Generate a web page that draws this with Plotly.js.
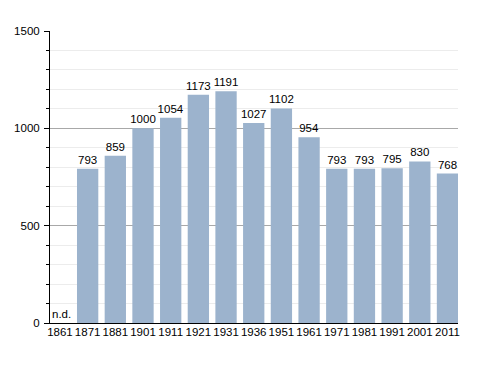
<!DOCTYPE html>
<html>
<head>
<meta charset="utf-8">
<script src="https://cdn.plot.ly/plotly-3.0.1.min.js"></script>
<style>html,body{margin:0;padding:0;background:#fff;}#chart{width:488px;height:373px;}</style>
</head>
<body>
<div id="chart"></div>
<script>
var years = ['1861','1871','1881','1901','1911','1921','1931','1936','1951','1961','1971','1981','1991','2001','2011'];
var population = [null,793,859,1000,1054,1173,1191,1027,1102,954,793,793,795,830,768];
var barLabels = population.map(function(v){ return v === null ? '' : String(v); });
var missingLabel = 'n.d.';

var trace = {
  type: 'bar',
  x: years,
  y: population,
  text: barLabels,
  textposition: 'outside',
  constraintext: 'none',
  cliponaxis: false,
  textfont: {family: 'Liberation Sans, Arial, sans-serif', size: 11.5, color: '#000'},
  marker: {color: '#9cb3cd', line: {width: 0}},
  width: 0.77,
  hoverinfo: 'none'
};

var layout = {
  width: 488, height: 373,
  margin: {l: 50, r: 30, t: 31, b: 50, pad: 0},
  paper_bgcolor: '#fff', plot_bgcolor: '#fff',
  showlegend: false,
  bargap: 0.23,
  font: {family: 'Liberation Sans, Arial, sans-serif', size: 11.5, color: '#000'},
  xaxis: {
    type: 'category',
    range: [-0.36, 14.38],
    showline: true, linecolor: '#000', linewidth: 1,
    ticks: '', showgrid: false, zeroline: false,
    tickfont: {size: 11.5, color: '#000'},
    ticklabelstandoff: -2,
    fixedrange: true
  },
  yaxis: {
    range: [0, 1500],
    tickvals: [0, 500, 1000, 1500],
    ticks: 'outside', ticklen: 5, tickcolor: '#000', tickwidth: 1,
    showline: true, linecolor: '#000', linewidth: 1,
    showgrid: true, gridcolor: '#a8a8a8', gridwidth: 1,
    zeroline: false,
    tickfont: {size: 11.5, color: '#000'},
    ticklabelstandoff: 2,
    minor: {dtick: 100, showgrid: true, gridcolor: '#ececec', gridwidth: 1, ticks: 'outside', ticklen: 3, tickcolor: '#000'},
    fixedrange: true
  },
  annotations: [{
    x: 0, y: 0, xref: 'x', yref: 'y',
    text: missingLabel, showarrow: false,
    xanchor: 'center', yanchor: 'bottom', yshift: 1, xshift: 2,
    font: {size: 11.5, color: '#000'}
  }]
};

Plotly.newPlot('chart', [trace], layout, {staticPlot: true, displayModeBar: false});
</script>
</body>
</html>
